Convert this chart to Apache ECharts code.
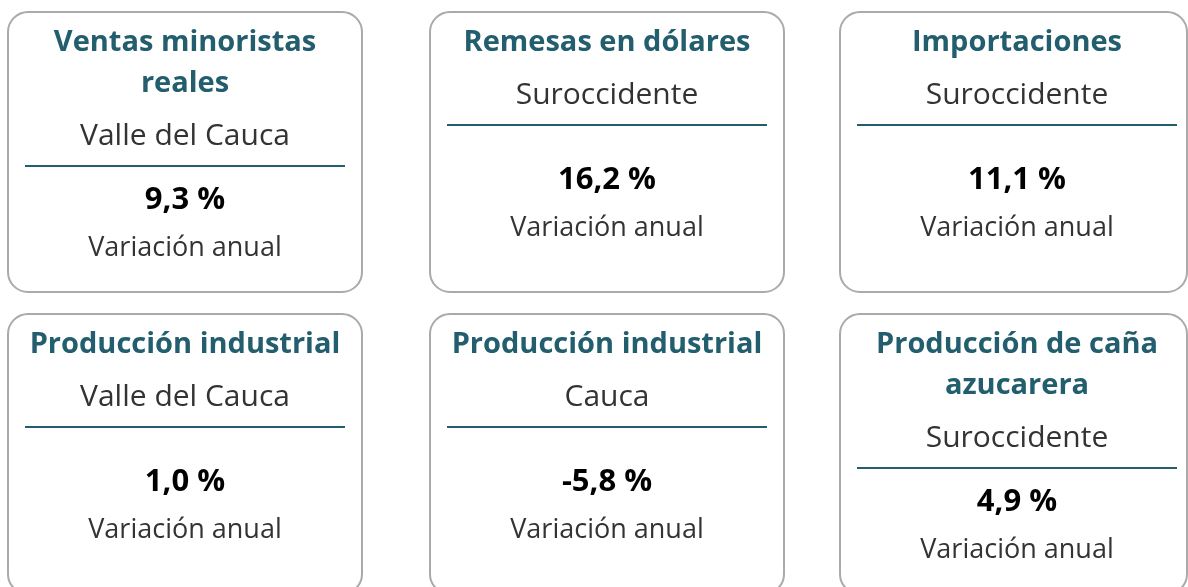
<!DOCTYPE html>
<html>
<head>
<meta charset="utf-8">
<script src="https://cdn.jsdelivr.net/npm/echarts@6/dist/echarts.min.js"></script>
<style>
  html, body { margin: 0; padding: 0; background: #fff; }
  #myChart { width: 1188px; height: 587px; }
</style>
</head>
<body>
<div id="myChart"></div>
<script>
// tarjetas de indicadores
var titles = ['Ventas minoristas\nreales', 'Remesas en dólares', 'Importaciones',
              'Producción industrial', 'Producción industrial', 'Producción de caña\nazucarera'];
var regions = ['Valle del Cauca', 'Suroccidente', 'Suroccidente',
               'Valle del Cauca', 'Cauca', 'Suroccidente'];
var values = [9.3, 16.2, 11.1, 1.0, -5.8, 4.9];
var valueLabel = 'Variación anual';

var FONT = '"Open Sans", "Noto Sans", sans-serif';
var TEAL = '#225E6D';

function fmt(v) {
    return v.toFixed(1).replace('.', ',') + ' %';
}

function build_cards() {
    var colX = [8, 430, 840];
    var colW = [354, 354, 347];
    var rowY = [12, 314];
    var cardH = 280;
    var elems = [];
    for (var i = 0; i < titles.length; i++) {
        var c = i % 3;
        var r = Math.floor(i / 3);
        var x = colX[c];
        var y = rowY[r];
        var cx = x + 177;
        elems.push({
            type: 'rect',
            shape: { x: x, y: y, width: colW[c], height: cardH, r: 20 },
            style: { fill: '#fff', stroke: '#AAAAAA', lineWidth: 2 }
        });
        var lines = titles[i].split('\n');
        var ty = y + 31;
        for (var j = 0; j < lines.length; j++) {
            elems.push({
                type: 'text', x: cx, y: ty,
                style: { text: lines[j], fill: TEAL, font: 'bold 29px ' + FONT, align: 'center', verticalAlign: 'middle' }
            });
            ty += 41;
        }
        var sy = ty - 41 + 52;
        elems.push({
            type: 'text', x: cx, y: sy,
            style: { text: regions[i], fill: '#333333', font: '30px ' + FONT, align: 'center', verticalAlign: 'middle' }
        });
        var ly = sy + 30;
        elems.push({
            type: 'line',
            shape: { x1: x + 17, y1: ly, x2: x + 337, y2: ly },
            style: { stroke: TEAL, lineWidth: 2 }
        });
        var mid = (ly + y + cardH) / 2 - 4.5;
        elems.push({
            type: 'text', x: cx, y: mid - 24,
            style: { text: fmt(values[i]), fill: '#000', font: 'bold 31px ' + FONT, align: 'center', verticalAlign: 'middle' }
        });
        elems.push({
            type: 'text', x: cx, y: mid + 24,
            style: { text: valueLabel, fill: '#333333', font: '27px ' + FONT, align: 'center', verticalAlign: 'middle' }
        });
    }
    return elems;
}

var myChart = echarts.init(document.getElementById('myChart'));
var option = {
    backgroundColor: '#fff',
    graphic: { elements: build_cards() }
};
myChart.setOption(option);
</script>
</body>
</html>
